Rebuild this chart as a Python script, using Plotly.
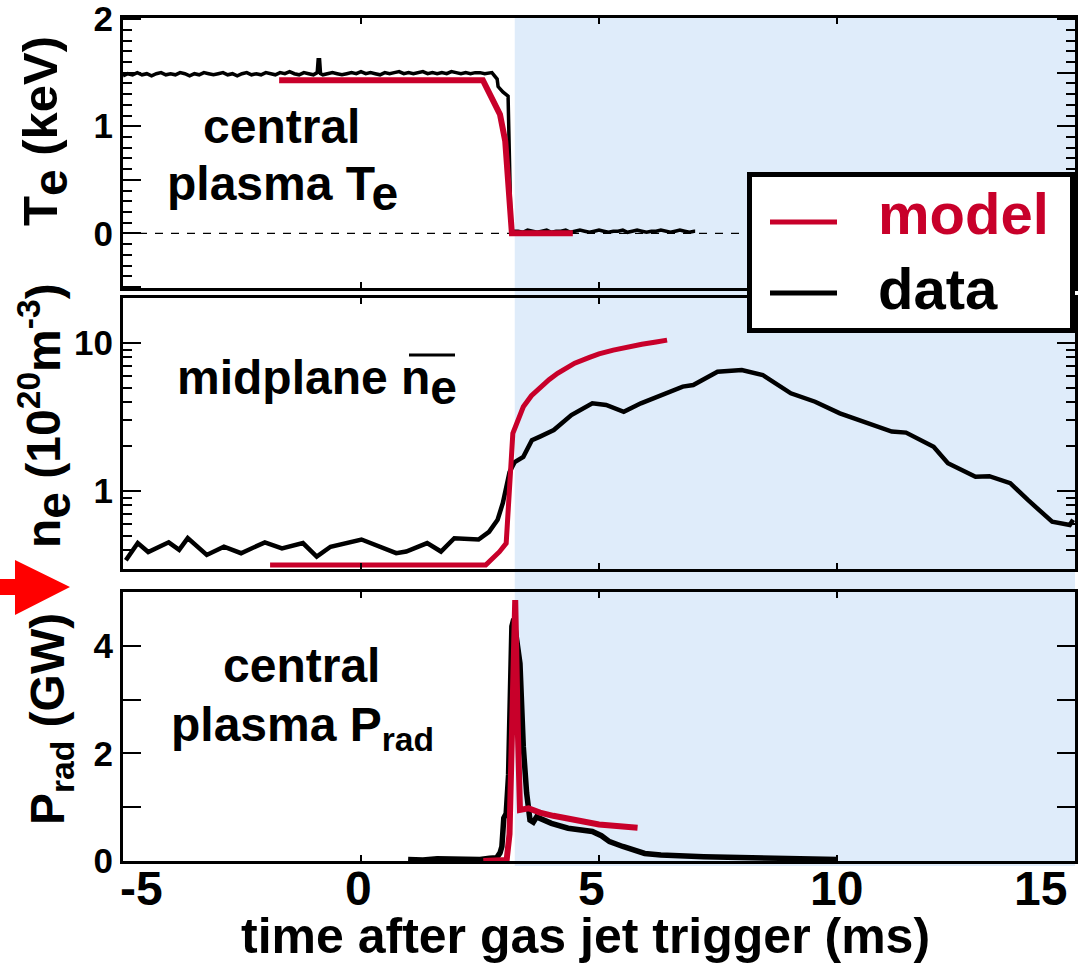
import plotly.graph_objects as go

# ---------------- data ----------------
# Panel 1: central plasma Te (keV)
te_data_t = [-5.0, -4.9, -4.8, -4.7, -4.6, -4.5, -4.4, -4.3, -4.2, -4.1,
             -4.0, -3.9, -3.8, -3.7, -3.6, -3.5, -3.4, -3.3, -3.2, -3.1,
             -3.0, -2.9, -2.8, -2.7, -2.6, -2.5, -2.4, -2.3, -2.2, -2.1,
             -2.0, -1.9, -1.8, -1.7, -1.6, -1.5, -1.4, -1.3, -1.2, -1.1,
             -1.0, -0.92, -0.90, -0.87, -0.85,
             -0.8, -0.7, -0.6, -0.5, -0.4, -0.3, -0.2, -0.1, 0.0, 0.1,
             0.2, 0.3, 0.4, 0.5, 0.6, 0.7, 0.8, 0.9, 1.0, 1.1,
             1.2, 1.3, 1.4, 1.5, 1.6, 1.7, 1.8, 1.9, 2.0, 2.1,
             2.2, 2.3, 2.4, 2.5, 2.6,
             2.75, 2.86, 2.88, 2.98, 3.09, 3.15, 3.19,
             3.3, 3.4, 3.5, 3.6, 3.7, 3.8, 3.9, 4.0, 4.1, 4.2,
             4.3, 4.4, 4.5, 4.6, 4.7, 4.8, 4.9, 5.0, 5.1, 5.2,
             5.3, 5.4, 5.5, 5.6, 5.7, 5.8, 5.9, 6.0, 6.1, 6.2,
             6.3, 6.4, 6.5, 6.6, 6.7, 6.8, 6.9, 7.0, 7.02]
te_data = [1.47, 1.49, 1.48, 1.50, 1.48, 1.49, 1.47, 1.49, 1.50, 1.48,
           1.49, 1.48, 1.50, 1.49, 1.47, 1.49, 1.48, 1.50, 1.49, 1.48,
           1.49, 1.50, 1.48, 1.49, 1.47, 1.49, 1.50, 1.48, 1.49, 1.48,
           1.50, 1.49, 1.48, 1.50, 1.49, 1.51, 1.49, 1.48, 1.50, 1.49,
           1.48, 1.50, 1.62, 1.62, 1.49,
           1.48, 1.49, 1.50, 1.49, 1.48, 1.49, 1.50, 1.49, 1.51, 1.49,
           1.50, 1.49, 1.48, 1.50, 1.49, 1.50, 1.51, 1.49, 1.50, 1.49,
           1.50, 1.51, 1.49, 1.50, 1.49, 1.50, 1.49, 1.51, 1.50, 1.49,
           1.50, 1.49, 1.50, 1.50, 1.49,
           1.50, 1.44, 1.37, 1.32, 1.28, 0.06, 0.02,
           0.02, 0.01, 0.03, 0.02, 0.01, 0.02, 0.03, 0.01, 0.02, 0.02,
           0.03, 0.01, 0.02, 0.03, 0.02, 0.01, 0.02, 0.03, 0.02, 0.01,
           0.02, 0.02, 0.03, 0.01, 0.02, 0.03, 0.02, 0.01, 0.02, 0.02,
           0.03, 0.02, 0.01, 0.02, 0.03, 0.02, 0.01, 0.02, 0.02]
te_model_t = [-1.72, 2.56, 2.92, 3.03, 3.17, 4.45]
te_model = [1.43, 1.43, 1.11, 0.86, 0.0, 0.0]

# Panel 2: midplane line-averaged density (1e20 m^-3), log axis
ne_data_t = [-4.94, -4.69, -4.47, -4.04, -3.82, -3.64, -3.24, -2.88, -2.52, -2.02,
             -1.66, -1.22, -0.93, -0.64, 0.01, 0.37, 0.74, 0.95, 1.39, 1.68,
             1.96, 2.47, 2.69, 2.87, 2.98, 3.12, 3.23, 3.41, 3.59, 3.76,
             4.05, 4.42, 4.86, 5.15, 5.52, 5.88, 6.25, 6.76, 6.98, 7.49,
             8.0, 8.44, 9.03, 9.54, 10.06, 10.64, 11.15, 11.45, 12.03, 12.33,
             12.91, 13.2, 13.64, 14.01, 14.52, 14.89, 14.96]
ne_data = [0.34, 0.445, 0.387, 0.45, 0.40, 0.48, 0.37, 0.42, 0.38, 0.45,
           0.41, 0.445, 0.36, 0.42, 0.47, 0.42, 0.38, 0.39, 0.445, 0.39,
           0.48, 0.47, 0.53, 0.64, 0.83, 1.34, 1.57, 1.70, 2.2, 2.33,
           2.58, 3.26, 3.91, 3.81, 3.43, 3.91, 4.34, 5.07, 5.2, 6.40,
           6.57, 6.08, 4.57, 4.01, 3.35, 2.87, 2.52, 2.48, 1.99, 1.54,
           1.25, 1.26, 1.13, 0.87, 0.62, 0.59, 0.64]
ne_model_t = [-1.91, 2.62, 2.91, 3.05, 3.19, 3.30, 3.41, 3.58, 3.76, 3.95, 4.13,
              4.49, 4.8, 5.0, 5.3, 5.59, 5.9, 6.2, 6.43]
ne_model = [0.316, 0.316, 0.389, 0.443, 2.45, 3.1, 3.71, 4.4, 5.0, 5.65, 6.24,
            7.3, 8.0, 8.45, 8.95, 9.4, 9.8, 10.15, 10.45]

# Panel 3: central plasma radiated power (GW)
prad_data_t = [0.99, 1.3, 1.6, 1.9, 2.2, 2.5, 2.7, 2.85, 2.92, 2.96,
               3.0, 3.05, 3.1, 3.14, 3.17, 3.21, 3.27, 3.34, 3.41, 3.48,
               3.55, 3.62, 3.69, 3.76, 4.0, 4.35, 4.6, 4.86, 5.05, 5.22,
               5.5, 5.96, 6.3, 6.69, 7.2, 7.7, 8.15, 8.7, 9.3, 9.98, 10.02]
prad_data = [0.03, 0.02, 0.04, 0.03, 0.04, 0.03, 0.05, 0.06, 0.15, 0.27,
             0.80, 0.88, 1.6, 3.2, 4.36, 4.5, 4.1, 3.67, 2.12, 1.26,
             0.76, 0.72, 0.82, 0.79, 0.70, 0.61, 0.58, 0.55, 0.47, 0.36,
             0.27, 0.14, 0.11, 0.09, 0.08, 0.07, 0.06, 0.05, 0.04, 0.02, 0.03]
prad_model_t = [2.57, 3.06, 3.12, 3.18, 3.24, 3.29, 3.34, 3.52, 3.76, 4.04, 4.49, 5.0, 5.81]
prad_model = [0.0, 0.02, 0.5, 2.6, 4.85, 2.6, 0.95, 0.98, 0.9, 0.84, 0.76, 0.68, 0.62]

x_tick_vals = [-5, 0, 5, 10, 15]
x_tick_text = ["-5", "0", "5", "10", "15"]
shade_start = 3.23   # start of the shaded (post thermal quench) interval, ms

# ---------------- styling ----------------
RED = "#C8002A"
BLUE = "#DFECFA"
FONT = "Liberation Sans, Arial, sans-serif"
W, H = 1086, 965
L, R, T, B = 123, 1075, 18, 861   # plot frame in pixels
x_label_shift = [18, -3, -8, -1, -35]   # label nudges (px) as in the reference


def px(x):
    return (x - L) / (R - L)


def py(y):
    return (B - y) / (B - T)


fig = go.Figure()

fig.add_trace(go.Scatter(x=te_data_t, y=te_data, mode="lines", xaxis="x", yaxis="y",
                         line=dict(color="black", width=3.5), showlegend=False))
fig.add_trace(go.Scatter(x=te_model_t, y=te_model, mode="lines", xaxis="x", yaxis="y",
                         line=dict(color=RED, width=6), showlegend=False))
fig.add_trace(go.Scatter(x=ne_data_t, y=ne_data, mode="lines", xaxis="x2", yaxis="y2",
                         line=dict(color="black", width=4.5), showlegend=False))
fig.add_trace(go.Scatter(x=ne_model_t, y=ne_model, mode="lines", xaxis="x2", yaxis="y2",
                         line=dict(color=RED, width=5), showlegend=False))
fig.add_trace(go.Scatter(x=prad_data_t, y=prad_data, mode="lines", xaxis="x3", yaxis="y3",
                         line=dict(color="black", width=5.5), showlegend=False))
fig.add_trace(go.Scatter(x=prad_model_t, y=prad_model, mode="lines", xaxis="x3", yaxis="y3",
                         line=dict(color=RED, width=6), showlegend=False))

axis_common = dict(showline=True, linecolor="black", linewidth=3, mirror="allticks",
                   showgrid=False, zeroline=False, ticks="inside", tickcolor="black",
                   tickwidth=2, ticklabeloverflow="allow", automargin=False)
xcommon = dict(axis_common, range=[-5, 15], tickmode="array", tickvals=x_tick_vals,
               ticklen=6, domain=[0, 1], showticklabels=False)
ytick_font = dict(family=FONT, size=35, color="black", weight="bold")

fig.update_layout(
    width=W, height=H,
    margin=dict(l=L, r=W - R, t=T, b=H - B, pad=0, autoexpand=False),
    paper_bgcolor="white", plot_bgcolor="rgba(0,0,0,0)",
    showlegend=False,
    xaxis=dict(xcommon, anchor="y"),
    xaxis2=dict(xcommon, anchor="y2"),
    xaxis3=dict(xcommon, anchor="y3"),
    yaxis=dict(axis_common, anchor="x", domain=[py(288), py(18)], range=[-0.51, 2.01],
               tickmode="array", tickvals=[-0.5, 0, 0.5, 1, 1.5, 2],
               ticktext=["", "0", "", "1", "", "2"], ticklen=18, tickfont=ytick_font,
               ticklabelstandoff=0,
               minor=dict(tickmode="linear", tick0=0, dtick=0.1, ticks="inside",
                          ticklen=9, tickwidth=2, tickcolor="black", showgrid=False)),
    yaxis2=dict(axis_common, anchor="x2", type="log", domain=[py(569), py(298)],
                range=[-0.527, 1.304], tickmode="array", tickvals=[1, 10],
                ticktext=["1", "10"], ticklen=18, tickfont=ytick_font, ticklabelstandoff=0,
                minor=dict(tickmode="array",
                           tickvals=[0.3, 0.4, 0.5, 0.6, 0.7, 0.8, 0.9,
                                     2, 3, 4, 5, 6, 7, 8, 9, 20],
                           ticks="inside", ticklen=9, tickwidth=2, tickcolor="black",
                           showgrid=False)),
    yaxis3=dict(axis_common, anchor="x3", domain=[0, py(592)], range=[0, 5.0],
                tickmode="array", tickvals=[0, 1, 2, 3, 4, 5],
                ticktext=["0", "", "2", "", "4", ""], ticklen=18, tickfont=ytick_font,
                ticklabelstandoff=0),
)

shapes = []
# shaded interval after the thermal quench, spanning all panels
shapes.append(dict(type="rect", xref="x3", yref="paper", x0=shade_start, x1=15,
                   y0=py(866), y1=py(15), fillcolor=BLUE, line=dict(width=0),
                   layer="below"))
# dashed zero line in the Te panel
shapes.append(dict(type="line", xref="x", yref="y", x0=-5, x1=15, y0=0, y1=0,
                   line=dict(color="black", width=1.2, dash="8px,8px"), layer="below"))
# overline on n_e
shapes.append(dict(type="line", xref="paper", yref="paper", x0=px(409), x1=px(455),
                   y0=py(355), y1=py(355), line=dict(color="black", width=3)))
# red arrow at the left margin
arrow_pts = [(0, 579), (15, 579), (15, 560), (70, 587), (15, 615), (15, 595), (0, 595)]
path = "M " + " L ".join(f"{px(a):.5f},{py(b):.5f}" for a, b in arrow_pts) + " Z"
shapes.append(dict(type="path", xref="paper", yref="paper", path=path,
                   fillcolor="#FF0000", line=dict(width=0), layer="above"))
# legend box
shapes.append(dict(type="rect", xref="paper", yref="paper", x0=px(749.5), x1=px(1072.5),
                   y0=py(330.5), y1=py(174.5), fillcolor="white",
                   line=dict(color="black", width=5), layer="above"))
shapes.append(dict(type="line", xref="paper", yref="paper", x0=px(770), x1=px(837),
                   y0=py(222), y1=py(222), line=dict(color=RED, width=5), layer="above"))
shapes.append(dict(type="line", xref="paper", yref="paper", x0=px(770), x1=px(837),
                   y0=py(293), y1=py(293), line=dict(color="black", width=5), layer="above"))
fig.update_layout(shapes=shapes)


def ann(text, x, y, size, color="black", angle=0, xanchor="center"):
    return dict(text=text, x=px(x), y=py(y), xref="paper", yref="paper",
                showarrow=False, xanchor=xanchor, yanchor="middle", textangle=angle,
                font=dict(family=FONT, size=size, color=color, weight="bold"))


e_full = "<sub><span style='font-size:48px'>e</span></sub>"
annotations = [
    ann("central", 281, 126, 48),
    ann("plasma T" + e_full, 282, 188, 48),
    ann("midplane n" + e_full, 317, 382, 48),
    ann("central", 301, 665, 48),
    ann("plasma P<sub>rad</sub>", 302, 728, 48),
    ann("T" + e_full + " (keV)", 45, 131, 49, angle=-90),
    ann("n" + e_full + " (10<sup>20</sup>m<sup>-3</sup>)", 45, 416, 48, angle=-90),
    ann("P<sub>rad</sub> (GW)", 51, 719, 48, angle=-90),
    ann("time after gas jet trigger (ms)", 585, 936, 50),
    ann("model", 876, 213, 58, color=RED, xanchor="left"),
    ann("data", 876, 288, 58, xanchor="left"),
]
# x tick labels of the bottom axis, placed on the axis scale
for val, txt, sh in zip(x_tick_vals, x_tick_text, x_label_shift):
    annotations.append(dict(text=txt, x=val, xref="x3", y=py(888), yref="paper",
                            xshift=sh, showarrow=False, xanchor="center", yanchor="middle",
                            font=dict(family=FONT, size=48, color="black", weight="bold")))
fig.update_layout(annotations=annotations)

fig.write_html("out.html")
